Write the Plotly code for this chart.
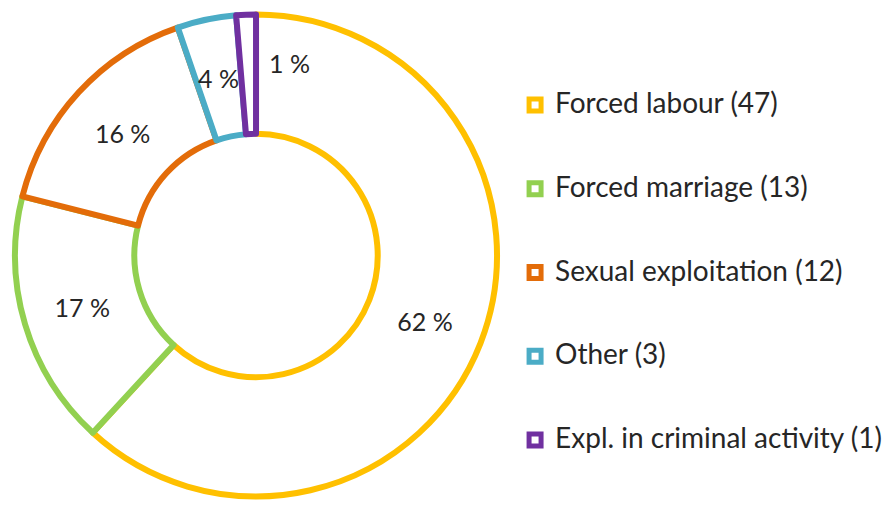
import math
import plotly.graph_objects as go

categories = ["Forced labour", "Forced marriage", "Sexual exploitation", "Other", "Expl. in criminal activity"]
counts = [47, 13, 12, 3, 1]
colors = ["#FFC000", "#92D050", "#E36C09", "#4BACC6", "#7030A0"]

total = sum(counts)
pct_text = [f"{round(c / total * 100)} %" for c in counts]

legend_labels = [
    f"\u00a0<br><span style='font-size:28px'>{cat} ({n})</span><br>\u00a0"
    for cat, n in zip(categories, counts)
]

W, H = 885, 505
dom_x = [0.0170, 0.5616]
dom_y = [0.0168, 0.9713]
HOLE = 0.505
TEXT_FONT = dict(family="Lato", size=25, color="#262626")

# slices that are too thin get their label as an annotation
small = [c / total < 0.05 for c in counts]
slice_text = ["" if s else t for s, t in zip(small, pct_text)]

fig = go.Figure(
    go.Pie(
        labels=legend_labels,
        values=counts,
        text=slice_text,
        textinfo="text",
        textposition="inside",
        insidetextorientation="horizontal",
        sort=False,
        direction="clockwise",
        rotation=0,
        hole=HOLE,
        marker=dict(colors=["white"] * len(counts), line=dict(color=colors, width=6)),
        textfont=TEXT_FONT,
        domain=dict(x=dom_x, y=dom_y),
        hoverinfo="skip",
    )
)

# geometry of the pie in pixels, to place labels of the thin slices
cx = (dom_x[0] + dom_x[1]) / 2 * W
cy = (dom_y[0] + dom_y[1]) / 2 * H
r_out = min((dom_x[1] - dom_x[0]) * W, (dom_y[1] - dom_y[0]) * H) / 2
r_mid = r_out * (1 + HOLE) / 2
cum = 0
for i, c in enumerate(counts):
    start, end = cum / total * 360, (cum + c) / total * 360
    cum += c
    if not small[i]:
        continue
    if i == len(counts) - 1:
        ang, rr = (end + 10) % 360, r_out * 0.81   # placed just beside the thinnest slice
    else:
        ang, rr = (start + end) / 2, r_mid
    a = math.radians(ang)
    fig.add_annotation(
        x=(cx + rr * math.sin(a)) / W,
        y=(cy + rr * math.cos(a)) / H,
        xref="paper", yref="paper",
        xanchor="center", yanchor="middle",
        text=pct_text[i],
        showarrow=False,
        font=TEXT_FONT,
    )

fig.update_layout(
    width=W,
    height=H,
    margin=dict(l=0, r=0, t=0, b=0, autoexpand=False),
    paper_bgcolor="white",
    plot_bgcolor="white",
    uniformtext=dict(mode="show", minsize=25),
    showlegend=True,
    legend=dict(
        x=0.582,
        xanchor="left",
        y=0.460,
        yanchor="middle",
        font=dict(family="Lato", size=20.7, color="#262626"),
        valign="middle",
        bgcolor="rgba(0,0,0,0)",
    ),
)

fig.write_html(
    "out.html",
    config={"displayModeBar": False},
    post_script="document.body.style.margin='0';",
)
